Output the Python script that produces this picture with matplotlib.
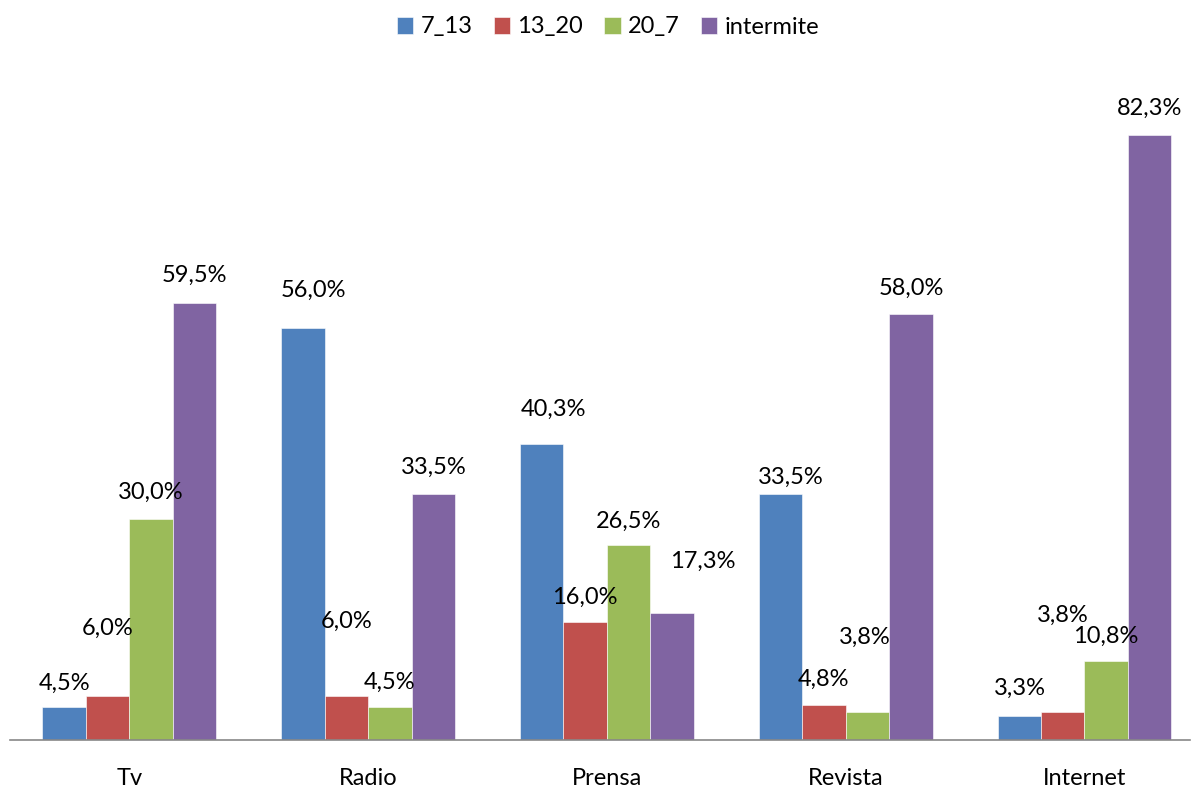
import numpy as np
import matplotlib.pyplot as plt

plt.rcParams['font.family'] = ['Lato', 'DejaVu Sans']

categories = ['Tv', 'Radio', 'Prensa', 'Revista', 'Internet']
series_names = ['7_13', '13_20', '20_7', 'intermite']
v_7_13 = [4.5, 56.0, 40.3, 33.5, 3.3]
v_13_20 = [6.0, 6.0, 16.0, 4.8, 3.8]
v_20_7 = [30.0, 4.5, 26.5, 3.8, 10.8]
v_intermite = [59.5, 33.5, 17.3, 58.0, 82.3]
values = [v_7_13, v_13_20, v_20_7, v_intermite]

colors = ['#4F81BD', '#C0504D', '#9BBB59', '#8064A2']

# manual label offsets (pixels) like the original Excel layout
label_offsets = [
    [(0, 24), (10, 38), (12, 34), (10, 16), (1, 27)],
    [(0, 68), (0, 75), (0, 25), (0, 25), (0, 97)],
    [(0, 27), (0, 25), (0, 24), (-3, 75), (0, 24)],
    [(0, 27), (0, 26), (31, 51), (0, 25), (0, 27)],
]

fig = plt.figure(figsize=(11.92, 7.88), dpi=100)
ax = fig.add_axes([10 / 1192, 1 - 740 / 788, 1180 / 1192, 0.8395])

x = np.arange(len(categories))
w = 0.182
for j, (name, vals) in enumerate(zip(series_names, values)):
    pos = x + (j - 1.5) * w
    bars = ax.bar(pos, vals, w, color=colors[j], label=name,
                  edgecolor='white', linewidth=0.4, zorder=2)
    for k, b in enumerate(bars):
        dx, dy = label_offsets[j][k]
        ax.annotate(('%.1f%%' % vals[k]).replace('.', ','),
                    (b.get_x() + b.get_width() / 2, b.get_height()),
                    xytext=(dx, dy), textcoords='offset pixels',
                    ha='center', va='center', fontsize=17, zorder=3)

ax.set_xlim(-0.5, 4.442)
ax.set_ylim(0, 90)
ax.set_yticks([])
ax.set_xticks(x)
ax.set_xticklabels(categories, fontsize=17)
ax.tick_params(axis='x', length=0, pad=20)
for s in ['top', 'right', 'left']:
    ax.spines[s].set_visible(False)
ax.spines['bottom'].set_color('#888888')
ax.spines['bottom'].set_linewidth(1.2)

fig.legend(loc='center', bbox_to_anchor=(0.51, 1 - 27 / 788), ncol=4,
           frameon=False, fontsize=17, handlelength=0.7, handleheight=0.7,
           handletextpad=0.3, columnspacing=0.9)

fig.savefig('out.png', dpi=100)
